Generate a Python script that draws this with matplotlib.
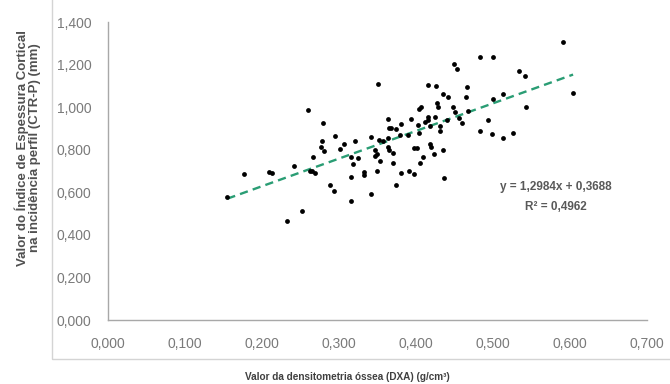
import matplotlib
matplotlib.use('Agg')
import matplotlib.pyplot as plt
from matplotlib.patches import Rectangle
from matplotlib.ticker import FuncFormatter
import numpy as np

plt.rc('font', family=['Liberation Sans', 'DejaVu Sans'])

# DXA (g/cm3) vs CTR-P (mm)
dxa = [0.155, 0.177, 0.209, 0.213, 0.241, 0.233, 0.252,
       0.266, 0.262, 0.265, 0.269, 0.260, 0.279, 0.278, 0.277, 0.280,
       0.288, 0.293, 0.295, 0.301, 0.307, 0.316, 0.318, 0.325, 0.321,
       0.316, 0.332, 0.333, 0.316, 0.341, 0.341, 0.351, 0.352, 0.357,
       0.347, 0.350, 0.347, 0.353, 0.350, 0.364, 0.365, 0.368, 0.374,
       0.364, 0.363, 0.365, 0.370, 0.370, 0.374, 0.381, 0.379, 0.390,
       0.381, 0.391, 0.397, 0.394, 0.404, 0.406, 0.403, 0.404, 0.397,
       0.401, 0.405, 0.409, 0.412, 0.416, 0.418, 0.415, 0.415, 0.426,
       0.418, 0.420, 0.423, 0.425, 0.427, 0.428, 0.431, 0.431, 0.435,
       0.436, 0.435, 0.441, 0.440, 0.448, 0.451, 0.449, 0.453, 0.456,
       0.460, 0.466, 0.465, 0.468, 0.483, 0.500, 0.500, 0.494, 0.483,
       0.499, 0.513, 0.513, 0.526, 0.534, 0.542, 0.543, 0.591, 0.604]
ctr = [0.579, 0.686, 0.697, 0.689, 0.725, 0.466, 0.513,
       0.767, 0.701, 0.698, 0.692, 0.986, 0.924, 0.841, 0.811, 0.794,
       0.634, 0.606, 0.866, 0.802, 0.827, 0.767, 0.733, 0.759, 0.841,
       0.673, 0.697, 0.681, 0.559, 0.592, 0.861, 1.108, 0.845, 0.842,
       0.798, 0.780, 0.770, 0.748, 0.701, 0.943, 0.900, 0.900, 0.899,
       0.853, 0.814, 0.798, 0.786, 0.736, 0.634, 0.919, 0.869, 0.869,
       0.692, 0.700, 0.686, 0.944, 0.990, 1.002, 0.916, 0.877, 0.809,
       0.809, 0.736, 0.764, 0.930, 0.940, 0.910, 0.952, 1.104, 1.099,
       0.827, 0.811, 0.778, 0.955, 1.018, 0.999, 0.911, 0.889, 0.798,
       0.665, 1.062, 1.046, 0.939, 0.999, 0.978, 1.202, 1.178, 0.947,
       0.924, 1.093, 1.049, 0.983, 1.237, 1.237, 1.037, 0.939, 0.889,
       0.872, 1.062, 0.856, 0.877, 1.170, 1.146, 0.999, 1.307, 1.068]

slope = 1.2984
intercept = 0.3688
r2 = 0.4962

fig = plt.figure(figsize=(6.7, 3.84), dpi=100)
ax = fig.add_axes([108/670, 64/384, 539/670, 298/384])

# outer chart frame
fig.patches.append(Rectangle((52/670, 25/384), 1.0, 1.0, transform=fig.transFigure,
                             fill=False, edgecolor='#d4d4d4', lw=1.0))

ax.scatter(dxa, ctr, s=12, c='black', zorder=3, linewidths=0)

xl = np.array([min(dxa), max(dxa)])
ax.plot(xl, slope*xl + intercept, color='#2a9d74', lw=1.7, dashes=(3.5, 2.2), zorder=2)

fig.text(0.83, (384-187)/384, 'y = 1,2984x + 0,3688',
         ha='center', va='center', fontsize=8.5, fontweight='bold', color='#595959')
fig.text(0.83, (384-207)/384, 'R² = 0,4962',
         ha='center', va='center', fontsize=8.5, fontweight='bold', color='#595959')

ax.set_xlim(0, 0.7)
ax.set_ylim(0, 1.4)
ax.set_xticks(np.arange(0, 0.71, 0.1))
ax.set_yticks(np.arange(0, 1.41, 0.2))
fmt = FuncFormatter(lambda v, p: f'{v:.3f}'.replace('.', ','))
ax.xaxis.set_major_formatter(fmt)
ax.yaxis.set_major_formatter(fmt)
ax.tick_params(length=0, labelsize=10, labelcolor='#7a7a7a', pad=12)

for s in ['top', 'right']:
    ax.spines[s].set_visible(False)
for s in ['left', 'bottom']:
    ax.spines[s].set_color('#a8a8a8')
    ax.spines[s].set_linewidth(1.0)

fig.text(347/670, (384-377)/384, 'Valor da densitometria óssea (DXA) (g/cm³)',
         ha='center', va='center', fontsize=7.2, fontweight='bold', color='#404040')
fig.text(28/670, (384-148)/384,
         'Valor do Índice de Espessura Cortical\nna incidência perfil (CTR-P) (mm)',
         ha='center', va='center', rotation=90, fontsize=9.5, fontweight='bold',
         color='#505050', linespacing=1.05)

plt.savefig('out.png', dpi=100)
